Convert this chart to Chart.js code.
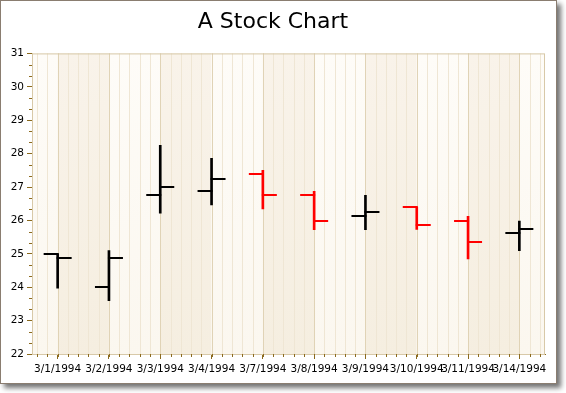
<!DOCTYPE html>
<html>
<head>
<meta charset="utf-8">
<script src="https://cdn.jsdelivr.net/npm/chart.js@4"></script>
<style>
  html, body { margin: 0; padding: 0; background: #fff; }
  #frame {
    position: absolute; left: 0; top: 0;
    width: 555px; height: 382px;
    border: 1px solid #8a7d70;
    box-shadow: 4px 4px 5px rgba(0,0,0,0.55);
    background: #fff;
  }
  canvas { display: block; }
</style>
</head>
<body>
<div id="frame"><canvas id="stockChart" width="555" height="382"></canvas></div>
<script>
const dates = ['3/1/1994', '3/2/1994', '3/3/1994', '3/4/1994', '3/7/1994',
               '3/8/1994', '3/9/1994', '3/10/1994', '3/11/1994', '3/14/1994'];
const openVals  = [25.0, 24.0, 26.76, 26.88, 27.39, 26.76, 26.13, 26.39, 25.99, 25.63];
const highVals  = [25.0, 25.1, 28.25, 27.86, 27.5, 26.87, 26.75, 26.4, 26.12, 25.98];
const lowVals   = [23.97, 23.6, 26.22, 26.46, 26.34, 25.72, 25.72, 25.73, 24.85, 25.09];
const closeVals = [24.88, 24.88, 27.0, 27.23, 26.76, 25.99, 26.25, 25.87, 25.36, 25.75];
const yTicks = [22, 23, 24, 25, 26, 27, 28, 29, 30, 31];

// red when the close is below the previous day's close
const barColors = closeVals.map((c, i) => (i > 0 && c < closeVals[i - 1]) ? '#ff0000' : '#000000');
const axisColor = '#8b6a1e';

// background bands, grid lines, minor ticks
const backdrop = {
  id: 'backdrop',
  beforeDatasetsDraw(chart) {
    const { ctx, chartArea: a, scales: { x } } = chart;
    const step = x.getPixelForValue(1) - x.getPixelForValue(0);
    ctx.save();
    let edges = [a.left];
    for (let i = 0; i < dates.length; i++) edges.push(x.getPixelForValue(i));
    edges.push(a.right);
    for (let k = 0; k < edges.length - 1; k++) {
      const dark = k % 2 === 1;
      const g = ctx.createLinearGradient(edges[k], a.top, edges[k + 1], a.bottom);
      if (dark) { g.addColorStop(0, '#f9f3ea'); g.addColorStop(1, '#f5eee0'); }
      else { g.addColorStop(0, '#fefcf8'); g.addColorStop(1, '#fbf7ef'); }
      ctx.fillStyle = g;
      ctx.fillRect(edges[k], a.top, edges[k + 1] - edges[k], a.bottom - a.top);
    }
    ctx.lineWidth = 1;
    ctx.strokeStyle = '#efe6d4';
    const x0 = x.getPixelForValue(0);
    for (let p = x0 - step; p < a.right; p += step / 5) {
      if (p <= a.left + 1) continue;
      ctx.beginPath();
      ctx.moveTo(Math.round(p) + 0.5, a.top);
      ctx.lineTo(Math.round(p) + 0.5, a.bottom);
      ctx.stroke();
    }
    ctx.strokeStyle = '#e0d3b6';
    for (let i = 0; i < dates.length; i++) {
      const p = Math.round(x.getPixelForValue(i)) + 0.5;
      ctx.beginPath(); ctx.moveTo(p, a.top); ctx.lineTo(p, a.bottom); ctx.stroke();
    }
    ctx.strokeStyle = '#d8c9a8';
    ctx.strokeRect(a.left + 0.5, a.top + 0.5, a.right - a.left - 1, a.bottom - a.top);
    ctx.restore();
  },
  afterDraw(chart) {
    const { ctx, chartArea: a, scales: { x, y } } = chart;
    const step = x.getPixelForValue(1) - x.getPixelForValue(0);
    ctx.save();
    ctx.strokeStyle = axisColor;
    ctx.lineWidth = 1;
    for (let v = 22; v < 31; v++) {
      for (let m = 1; m < 3; m++) {
        const p = Math.round(y.getPixelForValue(v + m / 3)) + 0.5;
        ctx.beginPath(); ctx.moveTo(a.left - 3, p); ctx.lineTo(a.left, p); ctx.stroke();
      }
    }
    const x0 = x.getPixelForValue(0);
    for (let p = x0 - step; p < a.right; p += step / 5) {
      if (p <= a.left + 1) continue;
      const q = Math.round(p) + 0.5;
      ctx.beginPath(); ctx.moveTo(q, a.bottom); ctx.lineTo(q, a.bottom + 3); ctx.stroke();
    }
    ctx.restore();
  }
};

// open / close tick marks
const ohlcTicks = {
  id: 'ohlcTicks',
  afterDatasetsDraw(chart) {
    const { ctx, scales: { x, y } } = chart;
    ctx.save();
    ctx.lineWidth = 2;
    for (let i = 0; i < dates.length; i++) {
      const cx = x.getPixelForValue(i);
      ctx.strokeStyle = barColors[i];
      const yo = Math.round(y.getPixelForValue(openVals[i]));
      const yc = Math.round(y.getPixelForValue(closeVals[i]));
      ctx.beginPath(); ctx.moveTo(cx - 14, yo); ctx.lineTo(cx + 1, yo); ctx.stroke();
      ctx.beginPath(); ctx.moveTo(cx - 1, yc); ctx.lineTo(cx + 14, yc); ctx.stroke();
    }
    ctx.restore();
  }
};

new Chart(document.getElementById('stockChart'), {
  type: 'bar',
  data: {
    labels: dates,
    datasets: [{
      label: 'High-Low',
      data: lowVals.map((l, i) => [l, highVals[i]]),
      backgroundColor: barColors,
      barThickness: 2,
      borderWidth: 0
    }]
  },
  options: {
    responsive: false,
    animation: false,
    layout: { padding: { left: 0, right: 11, top: 0, bottom: 0 } },
    plugins: {
      legend: { display: false },
      tooltip: { enabled: false },
      title: {
        display: true,
        text: 'A Stock Chart',
        color: '#000',
        font: { family: 'DejaVu Sans', size: 22, weight: 'normal' },
        padding: { top: 8, bottom: 18 }
      }
    },
    scales: {
      x: {
        offset: true,
        grid: { drawOnChartArea: false, tickLength: 5, color: axisColor, offset: false },
        border: { color: axisColor },
        ticks: {
          color: '#000', autoSkip: false, maxRotation: 0, padding: 4,
          font: { family: 'DejaVu Sans', size: 10.5 }
        },
        afterFit(s) { s.height = 29; }
      },
      y: {
        min: 22, max: 31,
        afterBuildTicks(s) { s.ticks = yTicks.map(v => ({ value: v })); },
        grid: { drawOnChartArea: false, tickLength: 5, color: axisColor },
        border: { color: axisColor },
        ticks: {
          color: '#000', padding: 3,
          font: { family: 'DejaVu Sans', size: 10.5 }
        },
        afterFit(s) { s.width = 31; }
      }
    }
  },
  plugins: [backdrop, ohlcTicks]
});
</script>
</body>
</html>
